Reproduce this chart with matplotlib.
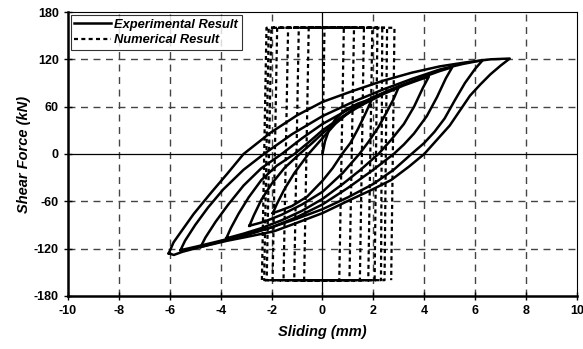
import numpy as np
import matplotlib
matplotlib.use("Agg")
import matplotlib.pyplot as plt

plt.rcParams['font.family'] = ['Liberation Sans', 'DejaVu Sans']
plt.rcParams['axes.unicode_minus'] = False

# experimental hysteresis loops (upper branch: neg peak -> pos peak, lower: pos peak -> neg peak)
init_x = [0.0, 0.1, 0.25, 0.5, 0.9, 1.4, 1.95]
init_y = [0, 16, 30, 44, 56, 64, 70]

loop1_up_x = [-1.95, -1.8, -1.5, -1.1, -0.55, 0.0, 0.5, 1.0, 1.5, 1.95]
loop1_up_y = [-75, -64, -45, -24, 0, 20, 38, 52, 63, 70]
loop1_lo_x = [1.95, 1.7, 1.4, 1.1, 0.77, 0.4, 0.0, -0.6, -1.2, -1.6, -1.95]
loop1_lo_y = [70, 52, 32, 14, 0, -18, -34, -54, -66, -71, -75]

loop2_up_x = [-2.87, -2.7, -2.4, -2.0, -1.5, -0.9, -0.4, 0.0, 0.6, 1.2, 1.9, 2.5, 3.0]
loop2_up_y = [-91, -78, -58, -38, -18, 0, 14, 26, 42, 56, 70, 79, 85]
loop2_lo_x = [3.0, 2.8, 2.54, 2.2, 1.8, 1.45, 0.8, 0.0, -0.8, -1.6, -2.3, -2.87]
loop2_lo_y = [85, 70, 54, 34, 15, 0, -24, -48, -64, -77, -86, -91]

loop3_up_x = [-3.78, -3.6, -3.3, -2.9, -2.4, -1.8, -1.1, -0.5, 0.0, 0.8, 1.6, 2.4, 3.2, 3.8, 4.18]
loop3_up_y = [-107, -94, -76, -55, -33, -15, 0, 16, 30, 48, 63, 76, 87, 94, 98]
loop3_lo_x = [4.18, 3.95, 3.6, 3.2, 2.7, 2.2, 1.5, 0.8, 0.0, -0.8, -1.6, -2.4, -3.1, -3.78]
loop3_lo_y = [98, 84, 60, 38, 18, 0, -20, -38, -57, -72, -84, -94, -101, -107]

loop4_up_x = [-4.79, -4.6, -4.2, -3.7, -3.1, -2.4, -1.6, -0.8, 0.0, 1.0, 2.0, 3.0, 4.0, 4.6, 5.1]
loop4_up_y = [-118, -106, -86, -64, -40, -18, 0, 20, 38, 56, 72, 86, 98, 105, 110]
loop4_lo_x = [5.1, 4.85, 4.5, 4.1, 3.6, 3.2, 2.8, 2.0, 1.0, 0.0, -1.0, -2.0, -3.0, -4.0, -4.79]
loop4_lo_y = [110, 96, 72, 48, 26, 12, 0, -20, -43, -64, -80, -93, -103, -111, -118]

loop5_up_x = [-5.58, -5.4, -5.0, -4.5, -3.9, -3.1, -2.3, -1.2, 0.0, 1.2, 2.4, 3.5, 4.6, 5.5, 6.3]
loop5_up_y = [-122, -110, -90, -68, -45, -20, 0, 25, 48, 66, 82, 95, 107, 114, 119]
loop5_lo_x = [6.3, 6.0, 5.6, 5.2, 4.8, 4.4, 4.0, 3.5, 2.8, 2.0, 1.0, 0.0, -1.0, -2.0, -3.0, -4.0, -4.9, -5.58]
loop5_lo_y = [119, 108, 90, 68, 45, 28, 14, 0, -20, -38, -55, -70, -82, -93, -102, -110, -117, -122]

loop6_up_x = [-6.04, -5.85, -5.5, -5.06, -4.4, -3.74, -3.1, -2.04, -1.0, 0.0, 1.2, 2.4, 3.5, 4.6, 5.6, 6.6, 7.36]
loop6_up_y = [-126, -112, -96, -76, -50, -25, 0, 27, 49, 66, 80, 93, 103, 111, 116, 120, 121]
loop6_lo_x = [7.36, 7.0, 6.6, 6.2, 5.8, 5.4, 5.0, 4.5, 4.0, 3.4, 2.7, 1.9, 1.1, 0.0, -0.9, -1.9, -2.8, -3.74, -4.8, -5.5, -5.84, -6.04]
loop6_lo_y = [121, 112, 101, 88, 74, 55, 36, 18, 0, -16, -33, -46, -58, -75, -86, -98, -104, -110, -118, -124, -128, -126]

# numerical result: rigid-sliding cycles at +/-160 kN
num_force = 160
right_top = [0.84, 1.24, 1.63, 1.96, 2.16, 2.35, 2.54, 2.83]
right_bot = [0.66, 1.06, 1.47, 1.80, 2.05, 2.30, 2.44, 2.70]
left_bot = [-0.72, -1.11, -1.53, -1.96, -2.19, -2.29, -2.38]
left_top = [-0.54, -0.93, -1.35, -1.78, -2.01, -2.11, -2.20]

num_x = [0.0, 0.08]
num_y = [0, num_force]
for i in range(len(right_top)):
    num_x += [right_top[i], right_bot[i]]
    num_y += [num_force, -num_force]
    if i < len(left_bot):
        num_x += [left_bot[i], left_top[i]]
        num_y += [-num_force, num_force]

fig = plt.figure(figsize=(5.83, 3.49), dpi=100)
ax = fig.add_axes([0.1166, 0.152, 0.873, 0.8136])

# grid
for gx in [-8, -6, -4, -2, 2, 4, 6, 8]:
    ax.axvline(gx, color='#444444', lw=1.0, ls=(0, (5, 4)), zorder=1)
for gy in [-120, -60, 60, 120]:
    ax.axhline(gy, color='#444444', lw=1.0, ls=(0, (5, 4)), zorder=1)
ax.axvline(0, color='black', lw=0.9, zorder=1)
ax.axhline(0, color='black', lw=0.9, zorder=1)

loops = [
    (loop1_up_x + loop1_lo_x, loop1_up_y + loop1_lo_y),
    (loop2_up_x + loop2_lo_x, loop2_up_y + loop2_lo_y),
    (loop3_up_x + loop3_lo_x, loop3_up_y + loop3_lo_y),
    (loop4_up_x + loop4_lo_x, loop4_up_y + loop4_lo_y),
    (loop5_up_x + loop5_lo_x, loop5_up_y + loop5_lo_y),
    (loop6_up_x + loop6_lo_x, loop6_up_y + loop6_lo_y),
]
ax.plot(init_x, init_y, color='black', lw=1.8, zorder=3, label='Experimental Result')
for lx, ly in loops:
    ax.plot(lx, ly, color='black', lw=1.8, zorder=3)

ax.plot(num_x, num_y, color='black', lw=1.6, ls=(0, (1.8, 1.5)), zorder=2,
        label='Numerical Result')

ax.set_xlim(-10, 10)
ax.set_ylim(-180, 180)
ax.set_xticks(np.arange(-10, 11, 2))
ax.set_yticks(np.arange(-180, 181, 60))
ax.tick_params(direction='inout', length=6, width=1, labelsize=9)
for lab in ax.get_xticklabels() + ax.get_yticklabels():
    lab.set_fontweight('bold')

ax.spines['left'].set_linewidth(1.8)
ax.spines['bottom'].set_linewidth(1.8)
ax.spines['top'].set_linewidth(0.8)
ax.spines['right'].set_linewidth(0.8)

ax.set_xlabel('Sliding (mm)', fontsize=10.5, fontweight='bold', style='italic', labelpad=6)
ax.set_ylabel('Shear Force (kN)', fontsize=10.5, fontweight='bold', style='italic', labelpad=2)

leg = ax.legend(loc='upper left', frameon=True, fancybox=False,
                borderaxespad=0.2, handlelength=2.8, handletextpad=0.3,
                borderpad=0.3, labelspacing=0.3,
                prop={'weight': 'bold', 'style': 'italic', 'size': 9.3})
leg.get_frame().set_edgecolor('black')
leg.get_frame().set_linewidth(0.8)

fig.savefig('out.png', dpi=100)
